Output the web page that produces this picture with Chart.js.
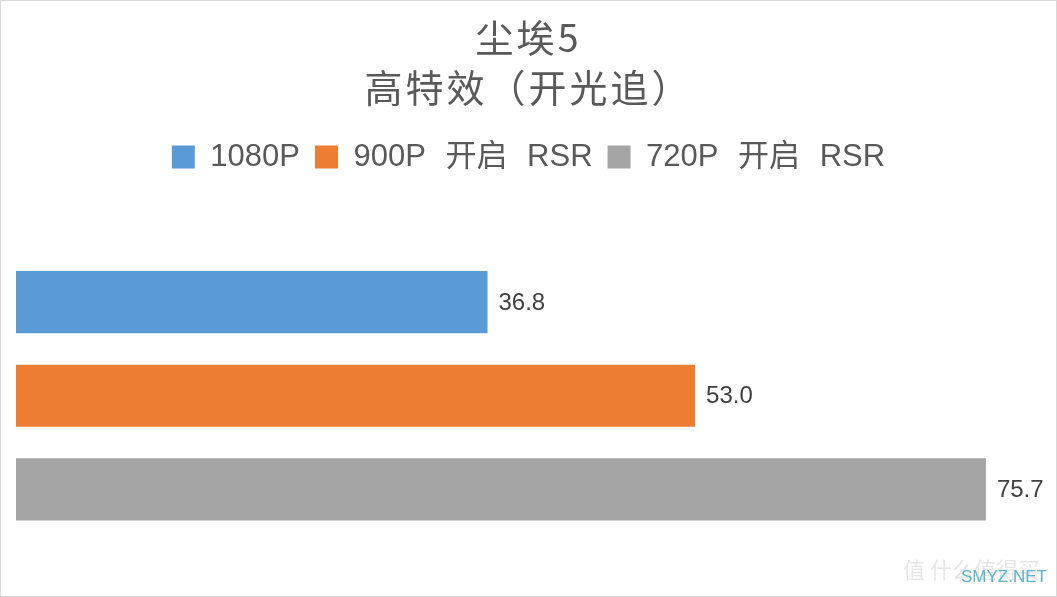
<!DOCTYPE html>
<html>
<head>
<meta charset="utf-8">
<script src="https://cdn.jsdelivr.net/npm/chart.js@4/dist/chart.umd.min.js"></script>
<style>
  html, body { margin: 0; padding: 0; background: #ffffff; }
  #wrap { position: relative; width: 1057px; height: 597px; }
</style>
</head>
<body>
<div id="wrap"><canvas id="c"></canvas></div>
<script>
// ---- data ----
const categories = ['尘埃5'];
const seriesNames = ['1080P', '900P 开启 RSR', '720P 开启 RSR'];
const seriesValues = [[36.8], [53.0], [75.7]];
const titleLines = ['尘埃5', '高特效（开光追）'];
const axisMin = 0;
const axisMax = 80;

const colors = ['#5B9BD5', '#ED7D31', '#A5A5A5'];
const latin = "'Liberation Sans', 'Noto Sans CJK SC', sans-serif";
const cjk = "'Noto Sans CJK SC', 'Liberation Sans', sans-serif";

function setSpacing(ctx) {
  if ('wordSpacing' in ctx) ctx.wordSpacing = '11px';
}

const boxTweaks = {
  id: 'boxTweaks',
  beforeInit(chart) {
    const legend = chart.legend;
    if (legend) {
      const fit = legend.fit;
      legend.fit = function () {
        fit.call(this);
        this.height += 43;
      };
    }
    const tb = chart.titleBlock;
    if (tb) {
      const draw = tb.draw;
      tb.draw = function () {
        const ctx = this.ctx;
        ctx.save();
        if ('letterSpacing' in ctx) ctx.letterSpacing = '3px';
        draw.apply(this, arguments);
        ctx.restore();
      };
    }
  },
  beforeLayout(chart) { setSpacing(chart.ctx); },
  beforeDraw(chart) { setSpacing(chart.ctx); }
};

const valueLabels = {
  id: 'valueLabels',
  afterDatasetsDraw(chart) {
    const ctx = chart.ctx;
    ctx.save();
    if ('wordSpacing' in ctx) ctx.wordSpacing = '0px';
    ctx.font = "24px " + latin;
    ctx.fillStyle = '#404040';
    ctx.textAlign = 'left';
    ctx.textBaseline = 'middle';
    chart.data.datasets.forEach((ds, i) => {
      const meta = chart.getDatasetMeta(i);
      meta.data.forEach((el, j) => {
        ctx.fillText(ds.data[j].toFixed(1), el.x + 11, el.y + 1);
      });
    });
    ctx.restore();
  }
};

const frame = {
  id: 'frame',
  afterDraw(chart) {
    const ctx = chart.ctx;
    ctx.save();
    if ('wordSpacing' in ctx) ctx.wordSpacing = '0px';
    // watermark
    ctx.font = "22px " + cjk;
    ctx.fillStyle = 'rgba(200,200,200,0.45)';
    ctx.textBaseline = 'middle';
    ctx.textAlign = 'left';
    ctx.fillText('值 什么值得买', 903, 570);
    ctx.font = "17px " + latin;
    ctx.fillStyle = '#5FB3C6';
    ctx.fillText('SMYZ.NET', 961, 577);
    // border
    ctx.strokeStyle = '#D9D9D9';
    ctx.lineWidth = 1;
    ctx.strokeRect(0.5, 0.5, chart.width - 1, chart.height - 1);
    ctx.restore();
  }
};

new Chart(document.getElementById('c'), {
  type: 'bar',
  data: {
    labels: categories,
    datasets: seriesNames.map((name, i) => ({
      label: name,
      data: seriesValues[i],
      backgroundColor: colors[i],
      borderWidth: 0,
      categoryPercentage: 0.825,
      barPercentage: 0.663
    }))
  },
  options: {
    indexAxis: 'y',
    responsive: true,
    maintainAspectRatio: false,
    animation: false,
    devicePixelRatio: 1,
    layout: { padding: { left: 16, right: 16, top: 0, bottom: 31 } },
    scales: {
      x: { display: false, min: axisMin, max: axisMax, grid: { display: false } },
      y: { display: false, grid: { display: false } }
    },
    plugins: {
      title: {
        display: true,
        text: titleLines,
        color: '#595959',
        font: { family: cjk, size: 38, weight: 'normal', lineHeight: 50 / 38 },
        padding: { top: 13, bottom: 13.5 }
      },
      legend: {
        display: true,
        position: 'top',
        labels: {
          color: '#595959',
          font: { family: latin, size: 31 },
          boxWidth: 23,
          boxHeight: 23,
          padding: 15
        }
      },
      tooltip: { enabled: false }
    }
  },
  plugins: [boxTweaks, valueLabels, frame]
});
</script>
</body>
</html>
